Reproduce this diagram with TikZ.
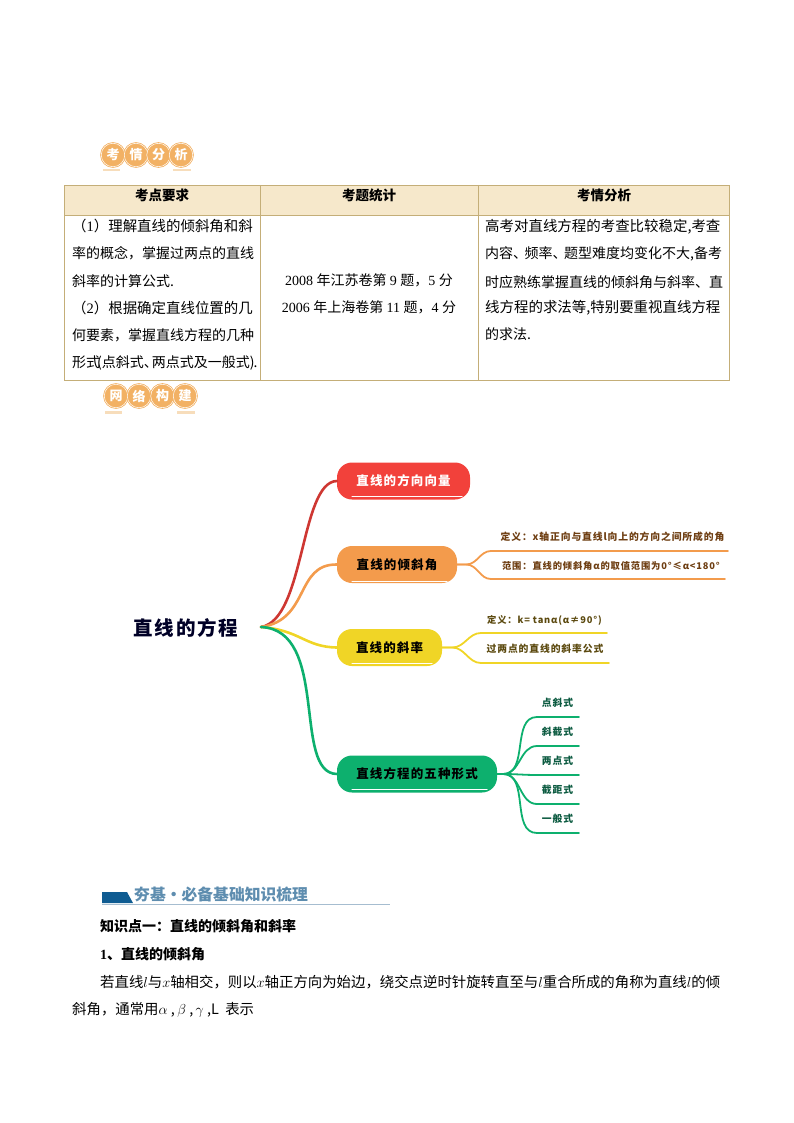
\documentclass[tikz,border=0pt]{standalone}
\usepackage{fontspec}
\setmainfont{Noto Sans CJK SC}
\newfontfamily\numfont{Liberation Serif}
\newfontfamily\mapfont[LetterSpace=9]{Noto Sans CJK SC}
\definecolor{tableline}{HTML}{C4AE78}
\definecolor{tablehead}{HTML}{F6E8CB}
\definecolor{badgefill}{HTML}{F2B164}
\definecolor{badgebar}{HTML}{F7DDBB}
\definecolor{mapred}{HTML}{F2413B}
\definecolor{maporange}{HTML}{F39B4C}
\definecolor{mapyellow}{HTML}{F0D526}
\definecolor{mapgreen}{HTML}{0DB06E}
\definecolor{inkorange}{HTML}{6E3E12}
\definecolor{inkyellow}{HTML}{5C4A10}
\definecolor{inkgreen}{HTML}{0B5A40}
\definecolor{titleblue}{HTML}{5E8DAF}
\definecolor{bardark}{HTML}{0F5C92}
\definecolor{barline}{HTML}{A6BDD0}
\tikzset{
  cell/.style={inner sep=0pt,anchor=west,font=\fontsize{14}{16}\selectfont},
  widecell/.style={inner sep=0pt,anchor=west,font=\fontsize{14.45}{16}\selectfont},
  midcell/.style={inner sep=0pt,font=\fontsize{14}{16}\selectfont},
  headcell/.style={inner sep=0pt,font=\bfseries\fontsize{13.5}{16}\selectfont},
  badge/.style={circle,fill=badgefill,draw=badgefill,double=white,double distance=.5pt,line width=.8pt,minimum size=23.5pt,inner sep=0pt,text=white,font=\bfseries\fontsize{13}{14}\selectfont},
  topic/.style={rounded corners=15pt,minimum height=37pt,inner sep=0pt,font=\mapfont\bfseries\fontsize{12.5}{15}\selectfont},
  limb/.style={line width=2.6pt,line cap=round},
  twig/.style={line width=1.8pt,line cap=round},
  shine/.style={white,line width=.6pt,line cap=round},
  leaf/.style={inner sep=0pt,font=\mapfont\bfseries\fontsize{9.8}{11}\selectfont},
  smallleaf/.style={inner sep=0pt,font=\mapfont\bfseries\fontsize{9.3}{11}\selectfont},
  body/.style={inner sep=0pt,anchor=west,font=\fontsize{14.4}{16}\selectfont},
}
\begin{document}
\begin{tikzpicture}[x=1pt,y=-1pt]
\useasboundingbox (0,0) rectangle (794,1123);

\foreach \name/\txt/\x in {kao/考/113,qing/情/136,fen/分/158.5,xi/析/181}
  \node[badge] (\name) at (\x,155) {\txt};
\fill[badgebar] (103,169) rectangle (120,171.5);
\fill[badgebar] (173,169) rectangle (191,171.5);

\fill[tablehead] (64.5,185) rectangle (729,215);
\draw[tableline,line width=.9pt] (64.5,185) rectangle (729,380);
\draw[tableline,line width=.9pt] (64.5,215)--(729,215);
\draw[tableline,line width=.9pt] (260.5,185)--(260.5,380);
\draw[tableline,line width=.9pt] (478,185)--(478,380);

\node[headcell] (headA) at (162,195) {考点要求};
\node[headcell] (headB) at (369,195) {考题统计};
\node[headcell] (headC) at (604,195) {考情分析};

\node[widecell] (reqA) at (72,226) {（\numfont 1\normalfont）理解直线的倾斜角和斜};
\node[cell] (reqB) at (72,253) {率的概念，掌握过两点的直线};
\node[cell] (reqC) at (72,281) {斜率的计算公式.};
\node[widecell] (reqD) at (72,308) {（\numfont 2\normalfont）根据确定直线位置的几};
\node[cell] (reqE) at (72,335) {何要素，掌握直线方程的几种};
\node[cell] (reqF) at (72,363) {形式\kern-3pt(点斜式、\kern-6pt两点式及一般式)\kern-1pt.};

\node[midcell] (statA) at (369,280) {\numfont 2008 \normalfont 年江苏卷第 \numfont 9 \normalfont 题，\numfont 5 \normalfont 分};
\node[midcell] (statB) at (369,307) {\numfont 2006 \normalfont 年上海卷第 \numfont 11 \normalfont 题，\numfont 4 \normalfont 分};

\node[widecell] (anaA) at (485,227) {高考对直线方程的考查比较稳定,考查};
\node[cell] (anaB) at (485,254) {内容、\kern-2.5pt频率、\kern-2.5pt题型难度均变化不大,备考};
\node[cell] (anaC) at (485,282) {时应熟练掌握直线的倾斜角与斜率、直};
\node[widecell] (anaD) at (485,308) {线方程的求法等,特别要重视直线方程};
\node[cell] (anaE) at (485,334) {的求法.};

\foreach \name/\txt/\x in {wang/网/116,luo/络/139,gou/构/162.5,jian/建/185}
  \node[badge] (\name) at (\x,396) {\txt};
\fill[badgebar] (105,411) rectangle (122,413.5);
\fill[badgebar] (177,411) rectangle (195,413.5);

\node[inner sep=0pt,font=\mapfont\bfseries\fontsize{19.5}{22}\selectfont,text=black!85!blue] (root) at (186,628) {直线的方程};
\coordinate (hub) at (261,627);

\node[topic,fill=mapred,text=white,minimum width=133pt] (fangxiang) at (403.5,481) {直线的方向向量};
\node[topic,fill=maporange,minimum width=120pt] (qingxie) at (397,564.5) {直线的倾斜角};
\node[topic,fill=mapyellow,minimum width=105pt] (xielv) at (389.5,647.5) {直线的斜率};
\node[topic,fill=mapgreen,minimum width=160pt] (xingshi) at (417,774) {直线方程的五种形式};

\draw[limb,mapred!85!black] (hub) .. controls (305,620) and (300,482) .. (fangxiang.west);
\draw[limb,maporange] (hub) .. controls (310,620) and (295,564) .. (qingxie.west);
\draw[limb,mapyellow] (hub) .. controls (300,630) and (305,647) .. (xielv.west);
\draw[limb,mapgreen] (hub) .. controls (330,630) and (292,773) .. (xingshi.west);

\draw[shine] ([shift={(15,-3)}]fangxiang.south west)--([shift={(-8,-3)}]fangxiang.south east);
\draw[shine] ([shift={(15,-2)}]qingxie.south west)--([shift={(-10,-2)}]qingxie.south east);
\draw[shine] ([shift={(15,-3)}]xielv.south west)--([shift={(-10,-3)}]xielv.south east);
\draw[shine] ([shift={(15,-3)}]xingshi.south west)--([shift={(-10,-3)}]xingshi.south east);

\node[leaf,text=inkorange] (dingyi) at (612.5,537) {定义：x轴正向与直线l向上的方向之间所成的角};
\node[smallleaf,text=inkorange] (fanwei) at (611,566) {范围：直线的倾斜角α的取值范围为0°≤α<180°};
\coordinate (dingyiL) at (491,551);
\coordinate (dingyiR) at (728,551);
\coordinate (fanweiL) at (491,579);
\coordinate (fanweiR) at (725,579);
\draw[twig,maporange] (qingxie.east)--+(9,0) to[out=0,in=180] (dingyiL)--(dingyiR);
\draw[twig,maporange] (qingxie.east)--+(9,0) to[out=0,in=180] (fanweiL)--(fanweiR);

\node[smallleaf,text=inkyellow] (dingyik) at (544.5,620) {定义：k= tanα(α≠90°)};
\node[leaf,text=inkyellow] (liangdian) at (545,649) {过两点的直线的斜率公式};
\coordinate (dingyikL) at (481,633);
\coordinate (dingyikR) at (607,633);
\coordinate (liangdianL) at (481,663);
\coordinate (liangdianR) at (609,663);
\draw[twig,mapyellow] (xielv.east)--+(10,0) to[out=0,in=180] (dingyikL)--(dingyikR);
\draw[twig,mapyellow] (xielv.east)--+(10,0) to[out=0,in=180] (liangdianL)--(liangdianR);

\foreach \name/\txt/\y in {dianxie/点斜式/703,xiejie/斜截式/732,liangd/两点式/761,jieju/截距式/790,yiban/一般式/819}{
  \node[leaf,text=inkgreen] (\name) at (557.5,\y) {\txt};
  \coordinate (\name L) at (537,\y+14);
  \coordinate (\name R) at (579,\y+14);
  \draw[twig,mapgreen] (xingshi.east)--+(6,0) to[out=0,in=180] (\name L)--(\name R);
}

\fill[bardark] (102,892)--(127,892)--(133,903)--(102,903)--cycle;
\draw[barline,line width=.9pt] (102,904.5)--(390,904.5);
\node[inner sep=0pt,anchor=west,text=titleblue,font=\bfseries\fontsize{15.8}{18}\selectfont] (title) at (134,894) {夯基·必备基础知识梳理};

\node[body,font=\bfseries\fontsize{14}{16}\selectfont] (pointA) at (100,926.5) {知识点一：直线的倾斜角和斜率};
\node[body,font=\bfseries\fontsize{14}{16}\selectfont] (pointB) at (100,954) {\numfont 1\normalfont\bfseries、直线的倾斜角};
\node[body] (paraA) at (100,982) {若直线$l$与$x$轴相交，则以$x$轴正方向为始边，绕交点逆时针旋转直至与$l$重合所成的角称为直线$l$的倾};
\node[body] (paraB) at (72,1010) {斜角，通常用$\alpha$ ,\,$\beta$ ,\,$\gamma$ ,L\ \ 表示};
\end{tikzpicture}
\end{document}
